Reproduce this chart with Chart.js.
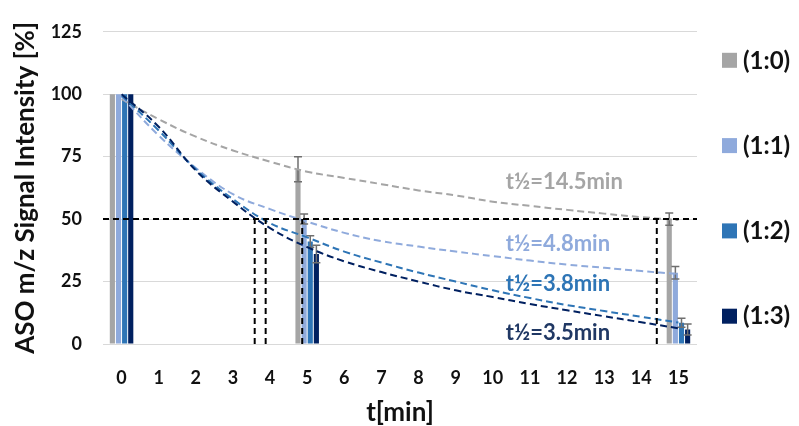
<!DOCTYPE html>
<html>
<head>
<meta charset="utf-8">
<script src="https://cdn.jsdelivr.net/npm/chart.js@4.4.1/dist/chart.umd.min.js"></script>
<style>
  html, body { margin: 0; padding: 0; background: #fff; }
  #wrap { position: relative; width: 799px; height: 426px; }
  #over { position: absolute; left: 0; top: 0; width: 799px; height: 426px; pointer-events: none; }
</style>
</head>
<body>
<div id="wrap">
  <canvas id="chart"></canvas>
  <div id="over"><canvas id="lines"></canvas></div>
</div>
<script>
// time axis (min)
const tLabels = ['0', '1', '2', '3', '4', '5', '6', '7', '8', '9', '10', '11', '12', '13', '14', '15'];
const seriesNames = ['(1:0)', '(1:1)', '(1:2)', '(1:3)'];

// measured signal (bars), only at t = 0, 5, 15
const bar10 = [100, null, null, null, null, 70, null, null, null, null, null, null, null, null, null, 50];
const bar11 = [100, null, null, null, null, 50, null, null, null, null, null, null, null, null, null, 28.5];
const bar12 = [100, null, null, null, null, 41, null, null, null, null, null, null, null, null, null, 8.5];
const bar13 = [100, null, null, null, null, 36, null, null, null, null, null, null, null, null, null, 5.8];

// error bars (+/-)
const err10 = [0, null, null, null, null, 5, null, null, null, null, null, null, null, null, null, 2.5];
const err11 = [0, null, null, null, null, 2, null, null, null, null, null, null, null, null, null, 2.5];
const err12 = [0, null, null, null, null, 2.3, null, null, null, null, null, null, null, null, null, 1.8];
const err13 = [0, null, null, null, null, 3.5, null, null, null, null, null, null, null, null, null, 2.2];

// decay fits at each minute
const fit10 = [98, 90, 83, 77.5, 73, 69, 66.5, 64, 61.5, 59.5, 57, 55.3, 53.7, 52.2, 50.8, 49.6];
const fit11 = [99, 83.5, 70.5, 60, 54, 49, 44.5, 41.2, 39, 37, 35.2, 33.4, 31.8, 30.5, 29.2, 28];
const fit12 = [99.5, 85.5, 70, 58, 48.4, 42.7, 37, 32.6, 28.6, 25, 21.5, 18.4, 15.6, 13.2, 10.9, 8.6];
const fit13 = [100, 87, 69.5, 57, 46.4, 38.8, 33.1, 28.8, 25, 21.5, 18.8, 16, 13.5, 11.1, 8.7, 6.3];

// half lives (min) and the 50 % level
const halfLives = [14.5, 4.8, 3.8, 3.5];
const halfLevel = 50;

const colors = ['#A5A5A5', '#8FAADC', '#2E75B6', '#002060'];
const textColors = ['#A5A5A5', '#8FAADC', '#2E75B6', '#203864'];
const bars = [bar10, bar11, bar12, bar13];
const errs = [err10, err11, err12, err13];
const fits = [fit10, fit11, fit12, fit13];

const FONT = 'Lato';

// error bars on top of the columns
const errorBars = {
  id: 'errorBars',
  afterDatasetsDraw(chart) {
    const ctx = chart.ctx;
    const y = chart.scales.y;
    ctx.save();
    ctx.strokeStyle = '#6F6F6F';
    ctx.lineWidth = 1.5;
    chart.data.datasets.forEach((ds, di) => {
      if (!ds.errors) return;
      const meta = chart.getDatasetMeta(di);
      meta.data.forEach((el, i) => {
        const e = ds.errors[i];
        const v = ds.data[i];
        if (!e || v == null) return;
        const top = y.getPixelForValue(v + e);
        const bot = y.getPixelForValue(v - e);
        ctx.beginPath();
        ctx.moveTo(el.x, top); ctx.lineTo(el.x, bot);
        ctx.moveTo(el.x - 4, top); ctx.lineTo(el.x + 4, top);
        ctx.moveTo(el.x - 4, bot); ctx.lineTo(el.x + 4, bot);
        ctx.stroke();
      });
    });
    ctx.restore();
  }
};

// half-life captions
const captions = {
  id: 'captions',
  afterDatasetsDraw(chart) {
    const ctx = chart.ctx;
    const x = chart.scales.x, y = chart.scales.y;
    const at = [[10.35, 65], [10.35, 40], [10.35, 24.2], [10.35, 4.4]];
    ctx.save();
    ctx.font = 'bold 22px ' + FONT;
    ctx.textAlign = 'left';
    ctx.textBaseline = 'middle';
    halfLives.forEach((h, i) => {
      ctx.fillStyle = textColors[i];
      ctx.fillText('t\u00BD=' + h + 'min', x.getPixelForValue(at[i][0]), y.getPixelForValue(at[i][1]));
    });
    ctx.restore();
  }
};

// legend on the right, spread over the plot height
const sideLegend = {
  id: 'sideLegend',
  afterDraw(chart) {
    const ctx = chart.ctx;
    const area = chart.chartArea;
    ctx.save();
    ctx.font = 'bold 24px ' + FONT;
    ctx.textBaseline = 'middle';
    ctx.textAlign = 'left';
    seriesNames.forEach((name, i) => {
      const cy = area.top + 28 + i * 85.3;
      ctx.fillStyle = colors[i];
      ctx.fillRect(722, cy - 7, 15, 15);
      ctx.fillStyle = '#111';
      ctx.fillText(name, 743, cy + 1);
    });
    ctx.restore();
  }
};

// base chart: axes, columns, error bars, captions, legend
const base = new Chart(document.getElementById('chart'), {
  type: 'bar',
  data: {
    labels: tLabels,
    datasets: bars.map((d, i) => ({
      label: seriesNames[i],
      data: d,
      backgroundColor: colors[i],
      errors: errs[i],
      categoryPercentage: 0.66,
      barPercentage: 0.84
    }))
  },
  plugins: [errorBars, captions, sideLegend],
  options: {
    responsive: true,
    maintainAspectRatio: false,
    animation: false,
    layout: { padding: { top: 18, right: 102, bottom: 0, left: 0 } },
    plugins: {
      legend: { display: false },
      tooltip: { enabled: false }
    },
    scales: {
      x: {
        offset: true,
        grid: { display: false },
        border: { display: false },
        ticks: { color: '#111', font: { family: FONT, size: 18, weight: 'bold' }, padding: 15, maxRotation: 0, autoSkip: false },
        title: { display: true, text: 't[min]', color: '#111', font: { family: FONT, size: 26, weight: 'bold', lineHeight: 1 }, padding: { top: 4, bottom: 0 } },
        afterFit(scale) { scale.height = 82; }
      },
      y: {
        min: 0,
        max: 125,
        ticks: { stepSize: 25, color: '#111', font: { family: FONT, size: 18, weight: 'bold' }, padding: 21 },
        grid: { color: '#D9D9D9', lineWidth: 1, drawTicks: false },
        border: { display: false },
        title: { display: true, text: 'ASO m/z Signal Intensity [%]', color: '#111', font: { family: FONT, size: 26, weight: 'bold', lineHeight: 1 }, padding: { top: 13, bottom: 0 } },
        afterFit(scale) { scale.width = 103; }
      }
    }
  }
});

// overlay chart with the dashed fits and guides, same plot area as the base
const area = base.chartArea;
const lineSets = fits.map((d, i) => ({
  label: seriesNames[i] + ' fit',
  xAxisID: 'xf',
  data: d.map((v, k) => ({ x: Number(tLabels[k]), y: v })),
  borderColor: colors[i],
  borderWidth: 2,
  borderDash: [7, 4],
  pointRadius: 0,
  tension: 0.4
}));
const guideStyle = { xAxisID: 'xl', borderColor: '#000', borderWidth: 2, borderDash: [6, 4], pointRadius: 0 };
lineSets.push(Object.assign({ label: 'half level', data: [{ x: -0.65, y: halfLevel }, { x: 15.6, y: halfLevel }] }, guideStyle));
halfLives.forEach((h) => {
  lineSets.push(Object.assign({ label: 'half life ' + h, data: [{ x: h, y: 0 }, { x: h, y: halfLevel }] }, guideStyle));
});
// guides first in the list so they are drawn on top
lineSets.reverse();

new Chart(document.getElementById('lines'), {
  type: 'line',
  data: { datasets: lineSets },
  options: {
    responsive: true,
    maintainAspectRatio: false,
    animation: false,
    layout: { padding: { left: area.left, top: area.top, right: 799 - area.right, bottom: 426 - area.bottom } },
    plugins: { legend: { display: false }, tooltip: { enabled: false } },
    scales: {
      xf: { type: 'linear', axis: 'x', display: false, offset: false, min: -0.5, max: 15.5 },
      xl: { type: 'linear', axis: 'x', display: false, offset: false, min: -0.65, max: 15.6 },
      y: { type: 'linear', display: false, min: 0, max: 125 }
    }
  }
});
</script>
</body>
</html>
